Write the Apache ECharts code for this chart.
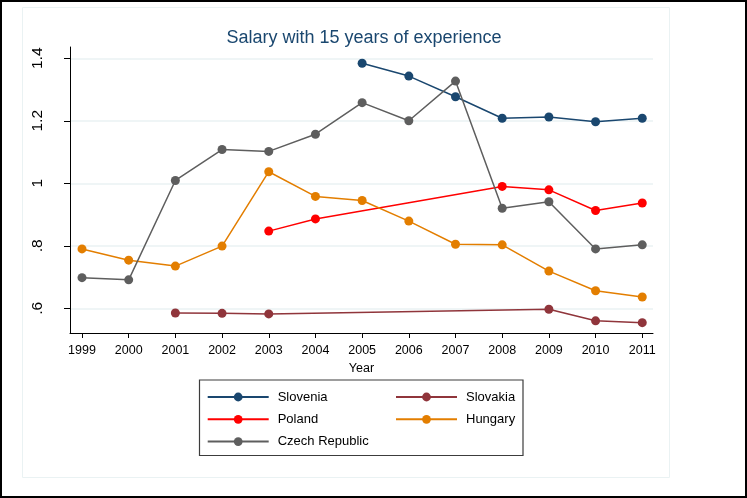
<!DOCTYPE html>
<html>
<head>
<meta charset="utf-8">
<title>Salary with 15 years of experience</title>
<script src="https://cdn.jsdelivr.net/npm/echarts@6/dist/echarts.min.js"></script>
<style>
  html, body { margin: 0; padding: 0; background: #fff; }
  #chart { width: 747px; height: 498px; }
</style>
</head>
<body>
<div id="chart"></div>
<script>
var years = [1999, 2000, 2001, 2002, 2003, 2004, 2005, 2006, 2007, 2008, 2009, 2010, 2011];
var slovenia = [null, null, null, null, null, null, 1.384, 1.343, 1.277, 1.208, 1.212, 1.197, 1.208];
var slovakia = [null, null, 0.585, 0.584, 0.582, null, null, null, null, null, 0.597, 0.560, 0.554];
var poland = [null, null, null, null, 0.847, 0.886, null, null, null, 0.990, 0.979, 0.913, 0.937];
var hungary = [0.790, 0.754, 0.735, 0.799, 1.037, 0.958, 0.945, 0.879, 0.805, 0.803, 0.719, 0.656, 0.636];
var czech = [0.698, 0.691, 1.009, 1.108, 1.102, 1.157, 1.258, 1.200, 1.327, 0.920, 0.941, 0.790, 0.803];
var yTicks = [0.6, 0.8, 1, 1.2, 1.4];

var navy = '#1a476f';

function pairs (vals) {
  var out = [];
  vals.forEach(function (v, i) {
    if (v !== null) out.push([years[i], v]);
  });
  return out;
}

function lineSeries (name, vals, color) {
  return {
    name: name,
    type: 'line',
    data: pairs(vals),
    symbol: 'circle',
    symbolSize: 9,
    color: color,
    lineStyle: { width: 1.5, color: color },
    itemStyle: { color: color },
    emphasis: { disabled: true },
    animation: false
  };
}

var legendText = { color: '#000', fontSize: 13, fontFamily: 'Liberation Sans, Arial, sans-serif', lineHeight: 11, padding: [0, 0, 0, 4] };

var myChart = echarts.init(document.getElementById('chart'));
myChart.setOption({
  backgroundColor: '#fff',
  animation: false,
  title: {
    text: 'Salary with 15 years of experience',
    left: 359,
    textAlign: 'center',
    top: 24,
    textStyle: { color: navy, fontSize: 18, fontWeight: 'normal', fontFamily: 'Liberation Sans, Arial, sans-serif' }
  },
  grid: { left: 70, right: 94, top: 47, bottom: 165, containLabel: false },
  legend: [{
    data: ['Slovenia', 'Poland', 'Czech Republic'],
    orient: 'vertical',
    left: 206.7,
    top: 390.5,
    itemWidth: 61,
    itemHeight: 11,
    itemGap: 9.3,
    padding: 0,
    textStyle: legendText,
    selectedMode: false
  }, {
    data: ['Slovakia', 'Hungary'],
    orient: 'vertical',
    left: 395,
    top: 390.5,
    itemWidth: 61,
    itemHeight: 11,
    itemGap: 9.3,
    padding: 0,
    textStyle: legendText,
    selectedMode: false
  }],
  xAxis: {
    type: 'value',
    min: 1998.743,
    max: 2011.23,
    name: 'Year',
    nameLocation: 'middle',
    nameGap: 25,
    nameTextStyle: { color: '#000', fontSize: 12.5, fontFamily: 'Liberation Sans, Arial, sans-serif' },
    axisLine: { onZero: false, lineStyle: { color: '#000', width: 1 } },
    axisTick: { show: true, length: 5, customValues: years, lineStyle: { color: '#000' } },
    axisLabel: {
      customValues: years,
      margin: 11,
      color: '#000',
      fontSize: 12.5,
      fontFamily: 'Liberation Sans, Arial, sans-serif',
      formatter: function (v) { return String(v); }
    },
    splitLine: { show: false }
  },
  yAxis: {
    type: 'value',
    min: 0.521,
    max: 1.436,
    axisLine: { show: true, lineStyle: { color: '#000', width: 1 } },
    axisTick: { show: true, length: 6, customValues: yTicks, lineStyle: { color: '#000' } },
    axisLabel: {
      customValues: yTicks,
      rotate: 90,
      margin: 24,
      color: '#000',
      fontSize: 15.5,
      fontFamily: 'Liberation Sans, Arial, sans-serif',
      formatter: function (v) {
        var s = String(Math.round(v * 10) / 10);
        return s.replace(/^0\./, '.');
      }
    },
    splitLine: { show: true, lineStyle: { color: '#eaf2f3', width: 1.5 } }
  },
  graphic: [
    { type: 'rect', shape: { x: 1, y: 1, width: 745, height: 496 }, style: { fill: 'none', stroke: '#000', lineWidth: 2 }, silent: true },
    { type: 'rect', shape: { x: 22.5, y: 7.5, width: 647, height: 470 }, style: { fill: 'none', stroke: '#eaf2f3', lineWidth: 1 }, silent: true },
    { type: 'rect', shape: { x: 199.5, y: 380, width: 323.5, height: 75.5 }, style: { fill: 'none', stroke: '#3c3c3c', lineWidth: 1.2 }, silent: true }
  ],
  series: [
    lineSeries('Slovenia', slovenia, navy),
    lineSeries('Slovakia', slovakia, '#90353b'),
    lineSeries('Poland', poland, '#ff0000'),
    lineSeries('Hungary', hungary, '#e37e00'),
    lineSeries('Czech Republic', czech, '#5e5e5e')
  ]
});
window.addEventListener('resize', function () { myChart.resize(); });
</script>
</body>
</html>
